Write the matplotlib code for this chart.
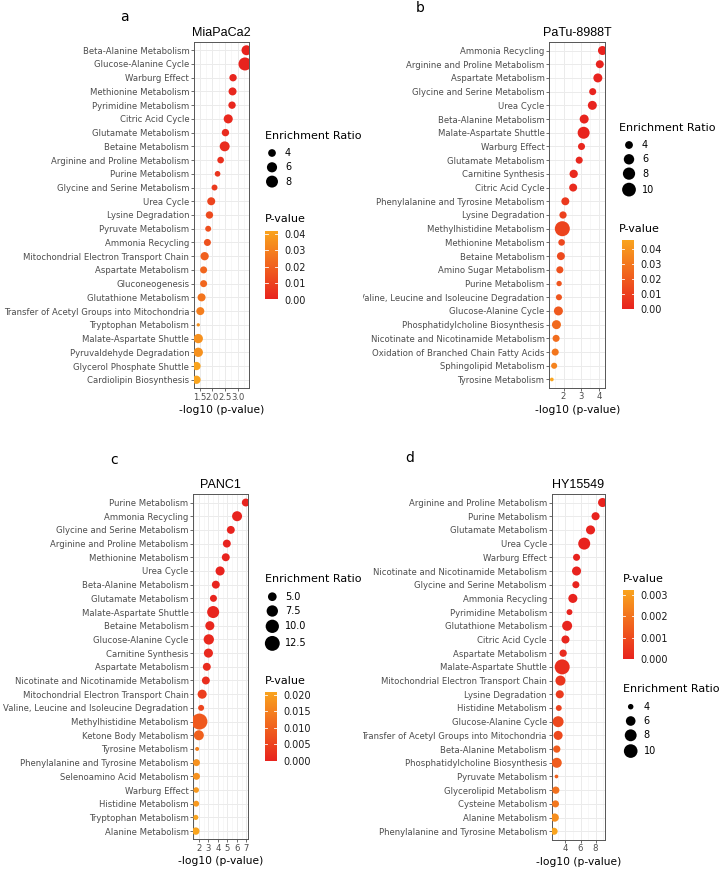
import numpy as np
import matplotlib
matplotlib.use("Agg")
import matplotlib.pyplot as plt
from matplotlib.colors import LinearSegmentedColormap, Normalize
from matplotlib.cm import ScalarMappable
from matplotlib.ticker import MultipleLocator
from matplotlib.transforms import Bbox

W, H, DPI = 720, 869, 100
PT = 72.0 / DPI

# ---------------- data ----------------
a_title = "MiaPaCa2"
a_names = ["Beta-Alanine Metabolism", "Glucose-Alanine Cycle", "Warburg Effect", "Methionine Metabolism",
           "Pyrimidine Metabolism", "Citric Acid Cycle", "Glutamate Metabolism", "Betaine Metabolism",
           "Arginine and Proline Metabolism", "Purine Metabolism", "Glycine and Serine Metabolism",
           "Urea Cycle", "Lysine Degradation", "Pyruvate Metabolism", "Ammonia Recycling",
           "Mitochondrial Electron Transport Chain", "Aspartate Metabolism", "Gluconeogenesis",
           "Glutathione Metabolism", "Transfer of Acetyl Groups into Mitochondria", "Tryptophan Metabolism",
           "Malate-Aspartate Shuttle", "Pyruvaldehyde Degradation", "Glycerol Phosphate Shuttle",
           "Cardiolipin Biosynthesis"]
a_logp = [3.35, 3.29, 2.82, 2.80, 2.78, 2.63, 2.52, 2.49, 2.33, 2.21, 2.09, 1.96, 1.89, 1.84, 1.81,
          1.70, 1.66, 1.66, 1.58, 1.53, 1.45, 1.45, 1.45, 1.38, 1.38]
a_er = [5.8, 9.4, 3.8, 4.2, 3.8, 5.0, 3.8, 5.8, 3.4, 3.0, 3.1, 4.2, 3.8, 3.1, 3.6, 4.4, 3.6, 3.6,
        4.2, 4.2, 2.6, 5.2, 5.2, 4.4, 4.4]
a_xticks = [1.5, 2.0, 2.5, 3.0]
a_er_breaks = [4, 6, 8]
a_p_breaks = [0.00, 0.01, 0.02, 0.03, 0.04]

b_title = "PaTu-8988T"
b_names = ["Ammonia Recycling", "Arginine and Proline Metabolism", "Aspartate Metabolism",
           "Glycine and Serine Metabolism", "Urea Cycle", "Beta-Alanine Metabolism",
           "Malate-Aspartate Shuttle", "Warburg Effect", "Glutamate Metabolism", "Carnitine Synthesis",
           "Citric Acid Cycle", "Phenylalanine and Tyrosine Metabolism", "Lysine Degradation",
           "Methylhistidine Metabolism", "Methionine Metabolism", "Betaine Metabolism",
           "Amino Sugar Metabolism", "Purine Metabolism", "Valine, Leucine and Isoleucine Degradation",
           "Glucose-Alanine Cycle", "Phosphatidylcholine Biosynthesis",
           "Nicotinate and Nicotinamide Metabolism", "Oxidation of Branched Chain Fatty Acids",
           "Sphingolipid Metabolism", "Tyrosine Metabolism"]
b_logp = [4.19, 4.04, 3.93, 3.64, 3.62, 3.16, 3.13, 3.01, 2.88, 2.57, 2.54, 2.10, 1.97, 1.93, 1.89,
          1.85, 1.79, 1.75, 1.74, 1.71, 1.60, 1.58, 1.53, 1.47, 1.34]
b_er = [4.8, 4.1, 4.8, 3.6, 4.8, 4.8, 7.7, 3.6, 3.6, 4.3, 4.1, 4.1, 3.7, 11.9, 3.4, 4.1, 3.6, 3.0,
        3.2, 4.8, 4.8, 3.6, 3.6, 3.2, 2.8]
b_xticks = [2, 3, 4]
b_er_breaks = [4, 6, 8, 10]
b_p_breaks = [0.00, 0.01, 0.02, 0.03, 0.04]

c_title = "PANC1"
c_names = ["Purine Metabolism", "Ammonia Recycling", "Glycine and Serine Metabolism",
           "Arginine and Proline Metabolism", "Methionine Metabolism", "Urea Cycle",
           "Beta-Alanine Metabolism", "Glutamate Metabolism", "Malate-Aspartate Shuttle",
           "Betaine Metabolism", "Glucose-Alanine Cycle", "Carnitine Synthesis", "Aspartate Metabolism",
           "Nicotinate and Nicotinamide Metabolism", "Mitochondrial Electron Transport Chain",
           "Valine, Leucine and Isoleucine Degradation", "Methylhistidine Metabolism",
           "Ketone Body Metabolism", "Tyrosine Metabolism", "Phenylalanine and Tyrosine Metabolism",
           "Selenoamino Acid Metabolism", "Warburg Effect", "Histidine Metabolism",
           "Tryptophan Metabolism", "Alanine Metabolism"]
c_logp = [6.95, 6.03, 5.37, 4.95, 4.84, 4.24, 3.79, 3.54, 3.51, 3.16, 3.05, 3.01, 2.84, 2.74, 2.35,
          2.24, 2.06, 2.00, 1.82, 1.75, 1.75, 1.72, 1.72, 1.68, 1.68]
c_er = [4.5, 6.1, 4.5, 4.5, 4.5, 5.3, 4.5, 4.0, 8.3, 5.3, 6.4, 5.3, 4.5, 4.5, 5.3, 3.6, 14.5, 6.1,
        3.3, 4.0, 4.0, 3.5, 3.6, 3.4, 4.2]
c_xticks = [2, 3, 4, 5, 6, 7]
c_er_breaks = [5.0, 7.5, 10.0, 12.5]
c_p_breaks = [0.000, 0.005, 0.010, 0.015, 0.020]

d_title = "HY15549"
d_names = ["Arginine and Proline Metabolism", "Purine Metabolism", "Glutamate Metabolism", "Urea Cycle",
           "Warburg Effect", "Nicotinate and Nicotinamide Metabolism", "Glycine and Serine Metabolism",
           "Ammonia Recycling", "Pyrimidine Metabolism", "Glutathione Metabolism", "Citric Acid Cycle",
           "Aspartate Metabolism", "Malate-Aspartate Shuttle", "Mitochondrial Electron Transport Chain",
           "Lysine Degradation", "Histidine Metabolism", "Glucose-Alanine Cycle",
           "Transfer of Acetyl Groups into Mitochondria", "Beta-Alanine Metabolism",
           "Phosphatidylcholine Biosynthesis", "Pyruvate Metabolism", "Glycerolipid Metabolism",
           "Cysteine Metabolism", "Alanine Metabolism", "Phenylalanine and Tyrosine Metabolism"]
d_logp = [8.93, 8.00, 7.33, 6.49, 5.47, 5.47, 5.38, 4.98, 4.53, 4.22, 4.00, 3.69, 3.56, 3.33, 3.24,
          3.11, 3.02, 3.02, 2.84, 2.84, 2.80, 2.71, 2.67, 2.57, 2.49]
d_er = [5.6, 5.0, 5.6, 8.1, 4.5, 5.6, 4.5, 5.6, 4.1, 6.3, 5.0, 4.6, 11.8, 6.3, 5.0, 4.1, 7.1, 5.6,
        4.6, 6.3, 3.8, 4.6, 4.5, 5.1, 4.5]
d_xticks = [4, 6, 8]
d_er_breaks = [4, 6, 8, 10]
d_p_breaks = [0.000, 0.001, 0.002, 0.003]

XLABEL = "-log10 (p-value)"

# ---------------- style ----------------
cmap = LinearSegmentedColormap.from_list("pv", ["#E8231E", "#F9A41E"])
TICK_COL = "#4D4D4D"
DARK = "#333333"

fig = plt.figure(figsize=(W / DPI, H / DPI), dpi=DPI)
fig.patch.set_facecolor("white")


def rect_px(l, t, r, b):
    return [l / W, 1 - b / H, (r - l) / W, (b - t) / H]


def diam_px(er, dmin, dmax, vmin, vmax):
    t = (np.asarray(er, float) - vmin) / (vmax - vmin)
    return dmin + (dmax - dmin) * np.sqrt(np.clip(t, 0, 1))


lax = fig.add_axes([0, 0, 1, 1], zorder=5)
lax.set_xlim(0, W)
lax.set_ylim(H, 0)
lax.axis("off")


def panel(box, title, names, logp, er, xticks, xfmt, minor, dsize, letter, leg, clip_left=None):
    l, t, r, b = box
    ax = fig.add_axes(rect_px(*box))
    logp = np.asarray(logp, float)
    er = np.asarray(er, float)
    pv = 10 ** (-logp)
    n = len(names)
    y = np.arange(n)
    norm = Normalize(pv.min(), pv.max())
    vmin, vmax = er.min(), er.max()
    d = diam_px(er, dsize[0], dsize[1], vmin, vmax)
    ax.scatter(logp, y, s=(d * PT) ** 2, c=pv, cmap=cmap, norm=norm, linewidths=0, zorder=3)
    lo, hi = logp.min(), logp.max()
    rg = hi - lo
    ax.set_xlim(lo - 0.05 * rg, hi + 0.05 * rg)
    ax.set_ylim(n - 1 + 0.6, -0.6)
    ax.set_yticks(y)
    ax.set_yticklabels(names)
    ax.set_xticks(xticks)
    ax.set_xticklabels([xfmt.format(v) for v in xticks])
    ax.xaxis.set_minor_locator(MultipleLocator(minor))
    ax.tick_params(which="major", direction="out", length=2.2, width=0.5, color=DARK,
                   labelsize=6.1, labelcolor=TICK_COL, pad=1.2)
    ax.tick_params(which="minor", length=0)
    ax.grid(which="major", color="#EBEBEB", lw=0.7, zorder=0)
    ax.grid(which="minor", axis="x", color="#F3F3F3", lw=0.45, zorder=0)
    ax.set_axisbelow(True)
    for s in ax.spines.values():
        s.set_color("#555555")
        s.set_linewidth(0.7)
    ax.set_xlabel(XLABEL, fontsize=7.7, labelpad=2.5, color="black")
    fig.text((l + r) / 2 / W, 1 - (t - 9.5) / H, title, ha="center", va="center",
             fontsize=9, family="Liberation Sans")
    fig.text(letter[0] / W, 1 - letter[1] / H, letter[2], ha="center", va="center", fontsize=10)
    if clip_left is not None:
        cb = Bbox.from_extents(clip_left, 0, W, H)
        for lab in ax.get_yticklabels():
            lab.set_clip_box(cb)
            lab.set_clip_on(True)

    # ---- legends ----
    for kind in leg["order"]:
        if kind == "er":
            tx, ty = leg["er_title"]
            lax.text(tx, ty, "Enrichment Ratio", ha="left", va="center", fontsize=8)
            dx, y0 = leg["er_dot"]
            brk = leg["er_breaks"]
            dd = diam_px(brk, dsize[0], dsize[1], vmin, vmax)
            ys = [y0]
            for i in range(1, len(brk)):
                ys.append(ys[-1] + max(14.3, (dd[i - 1] + dd[i]) / 2 + 3.0))
            lax.scatter([dx] * len(brk), ys, s=(dd * PT) ** 2, color="black", linewidths=0)
            for yy, bv in zip(ys, brk):
                lax.text(dx + 13, yy, leg["er_fmt"].format(bv), ha="left", va="center", fontsize=7)
        else:
            tx, ty = leg["p_title"]
            lax.text(tx, ty, "P-value", ha="left", va="center", fontsize=8)
            bl, bt, br, bb = leg["p_bar"]
            cax = fig.add_axes(rect_px(bl, bt, br, bb))
            cbar = fig.colorbar(ScalarMappable(norm=norm, cmap=cmap), cax=cax)
            cbar.outline.set_visible(False)
            pb = leg["p_breaks"]
            cbar.set_ticks(pb)
            cbar.set_ticklabels([leg["p_fmt"].format(v) for v in pb])
            cax.tick_params(length=0, labelsize=7, pad=4.5, labelcolor="#1A1A1A")
            for v in pb:
                if pv.min() <= v <= pv.max():
                    cax.axhline(v, 0, 0.2, color="white", lw=0.6)
                    cax.axhline(v, 0.8, 1, color="white", lw=0.6)
    return ax


panel((194, 42, 249, 388), a_title, a_names, a_logp, a_er, a_xticks, "{:.1f}", 0.25, (3.3, 13.0),
      (124, 16.7, "a"),
      dict(order=["er", "p"], er_title=(265, 136), er_dot=(272, 153), er_breaks=a_er_breaks,
           er_fmt="{:d}", p_title=(265, 219), p_bar=(265, 231, 277.7, 300),
           p_breaks=a_p_breaks, p_fmt="{:.2f}"))

panel((549.3, 42.3, 605, 387.7), b_title, b_names, b_logp, b_er, b_xticks, "{:d}", 0.5, (3.7, 15.0),
      (420, 7.5, "b"),
      dict(order=["er", "p"], er_title=(619, 127.7), er_dot=(629, 145), er_breaks=b_er_breaks,
           er_fmt="{:d}", p_title=(619, 229), p_bar=(621.7, 240, 634, 309),
           p_breaks=b_p_breaks, p_fmt="{:.2f}"), clip_left=363)

panel((193.3, 494.3, 248.3, 839.3), c_title, c_names, c_logp, c_er, c_xticks, "{:d}", 0.5, (4.0, 16.0),
      (114.5, 460, "c"),
      dict(order=["er", "p"], er_title=(265, 579), er_dot=(272.3, 596.7), er_breaks=c_er_breaks,
           er_fmt="{:.1f}", p_title=(265, 681), p_bar=(265, 691.7, 276.7, 761),
           p_breaks=c_p_breaks, p_fmt="{:.3f}"))

panel((551.7, 494.3, 605, 839.5), d_title, d_names, d_logp, d_er, d_xticks, "{:d}", 1.0, (3.7, 15.0),
      (410, 457.5, "d"),
      dict(order=["p", "er"], er_title=(622.7, 689.3), er_dot=(630.7, 706.7), er_breaks=d_er_breaks,
           er_fmt="{:d}", p_title=(622.7, 579.3), p_bar=(622.7, 590, 634.3, 659.3),
           p_breaks=d_p_breaks, p_fmt="{:.3f}"), clip_left=363)

fig.savefig("out.png", dpi=DPI, facecolor="white")
